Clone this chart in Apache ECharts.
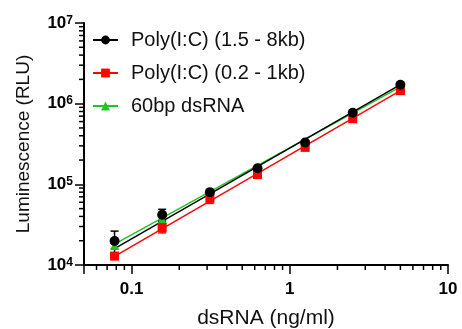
<!DOCTYPE html>
<html>
<head>
<meta charset="utf-8">
<script src="https://cdn.jsdelivr.net/npm/echarts@6/dist/echarts.min.js"></script>
<style>
  html, body { margin: 0; padding: 0; background: #fff; }
  #chart { width: 462px; height: 329px; }
</style>
</head>
<body>
<div id="chart"></div>
<script>
// doses (ng/ml)
const doses = [0.078, 0.156, 0.3125, 0.625, 1.25, 2.5, 5];
// mean luminescence per group
const longPoly = [19800, 42000, 80000, 158000, 330000, 770000, 1720000];
const shortPoly = [12900, 29000, 67000, 132000, 287000, 650000, 1450000];
const ds60 = [17500, 37000, 78000, 155000, 325000, 740000, 1600000];
// error (+/-)
const longPolyErr = [6500, 7000, 5000, 8000, 15000, 30000, 60000];
const shortPolyErr = [1200, 4000, 9000, 8000, 12000, 25000, 50000];
const ds60Err = [1500, 2500, 4000, 6000, 10000, 20000, 40000];
// fitted lines (ends)
const fitX = [0.078, 5];
const longFit = [16000, 1720000];
const shortFit = [12800, 1450000];
const dsFit = [18100, 1620000];

const names = ['Poly(I:C) (1.5 - 8kb)', 'Poly(I:C) (0.2 - 1kb)', '60bp dsRNA'];
const colors = ['#000000', '#ff0000', '#22c322'];

const xMinor = [0.06, 0.07, 0.08, 0.09, 0.2, 0.3, 0.4, 0.5, 0.6, 0.7, 0.8, 0.9, 2, 3, 4, 5, 6, 7, 8, 9];
const yMinor = [2e4, 3e4, 4e4, 5e4, 6e4, 7e4, 8e4, 9e4, 2e5, 3e5, 4e5, 5e5, 6e5, 7e5, 8e5, 9e5, 2e6, 3e6, 4e6, 5e6, 6e6, 7e6, 8e6, 9e6];

const X_MIN = 0.05, X_MAX = 10, Y_MIN = 1e4, Y_MAX = 1e7;
const font = '"Liberation Sans", Arial, Helvetica, sans-serif';

const isDecade = v => Math.abs(Math.log10(v) - Math.round(Math.log10(v))) < 1e-6;

const chart = echarts.init(document.getElementById('chart'));

function fitSeries(name, ys, color, symbol, size, z) {
  return {
    name: name,
    type: 'line',
    data: fitX.map((x, i) => [x, ys[i]]),
    symbol: symbol,
    symbolSize: size,
    showSymbol: false,
    lineStyle: { color: color, width: 1.4 },
    itemStyle: { color: color },
    silent: true,
    z: z
  };
}

function pointSeries(name, ys, color, symbol, size, z) {
  return {
    name: name,
    type: 'scatter',
    data: doses.map((x, i) => [x, ys[i]]),
    symbol: symbol,
    symbolSize: size,
    itemStyle: { color: color, opacity: 1 },
    z: z
  };
}

function errSeries(name, ys, errs, color, z) {
  return {
    name: name,
    type: 'custom',
    data: doses.map((x, i) => [x, ys[i] - errs[i], ys[i] + errs[i]]),
    renderItem: function (params, api) {
      const lo = api.coord([api.value(0), api.value(1)]);
      const hi = api.coord([api.value(0), api.value(2)]);
      const w = 4;
      const st = { stroke: color, lineWidth: 1.5 };
      return {
        type: 'group',
        children: [
          { type: 'line', shape: { x1: lo[0], y1: lo[1], x2: hi[0], y2: hi[1] }, style: st },
          { type: 'line', shape: { x1: hi[0] - w, y1: hi[1], x2: hi[0] + w, y2: hi[1] }, style: st },
          { type: 'line', shape: { x1: lo[0] - w, y1: lo[1], x2: lo[0] + w, y2: lo[1] }, style: st }
        ]
      };
    },
    silent: true,
    z: z
  };
}

// short log minor ticks, just outside the plot
function minorTicks(vals, isX) {
  return {
    type: 'custom',
    clip: false,
    data: vals.map(v => isX ? [v, Y_MIN] : [X_MIN, v]),
    renderItem: function (params, api) {
      const p = api.coord([api.value(0), api.value(1)]);
      const shape = isX
        ? { x1: p[0], y1: p[1], x2: p[0], y2: p[1] + 5 }
        : { x1: p[0] - 5, y1: p[1], x2: p[0], y2: p[1] };
      return { type: 'line', shape: shape, style: { stroke: '#000', lineWidth: 1.5 } };
    }
  };
}

const option = {
  animation: false,
  grid: { left: 84, right: 14, top: 23, bottom: 64, outerBoundsMode: 'none' },
  legend: {
    data: names,
    orient: 'vertical',
    left: 87,
    top: 25,
    itemWidth: 25,
    itemHeight: 11,
    itemGap: 13,
    textStyle: { fontFamily: font, fontSize: 20, color: '#111', padding: [0, 0, 0, 8] }
  },
  xAxis: {
    type: 'log',
    logBase: 10,
    min: X_MIN,
    max: X_MAX,
    name: 'dsRNA (ng/ml)',
    nameLocation: 'middle',
    nameGap: 43,
    nameTextStyle: { fontFamily: font, fontSize: 21, color: '#111' },
    splitLine: { show: false },
    axisLine: { lineStyle: { color: '#000', width: 2 } },
    axisTick: { length: 9, lineStyle: { color: '#000', width: 1.5 } },
    axisLabel: {
      margin: 16,
      fontFamily: font,
      fontSize: 17,
      fontWeight: 'bold',
      color: '#000',
      formatter: v => isDecade(v) ? String(+v.toPrecision(6)) : ''
    }
  },
  yAxis: {
    type: 'log',
    logBase: 10,
    min: Y_MIN,
    max: Y_MAX,
    name: 'Luminescence (RLU)',
    nameLocation: 'middle',
    nameGap: 51,
    nameTextStyle: { fontFamily: font, fontSize: 19, color: '#111' },
    splitLine: { show: false },
    axisLine: { lineStyle: { color: '#000', width: 2 } },
    axisTick: { length: 9, lineStyle: { color: '#000', width: 1.5 } },
    axisLabel: {
      margin: 11,
      fontFamily: font,
      color: '#000',
      formatter: v => '{b|10}{s|' + Math.round(Math.log10(v)) + '}',
      rich: {
        b: { fontFamily: font, fontSize: 17, fontWeight: 'bold', color: '#000' },
        s: { fontFamily: font, fontSize: 12, fontWeight: 'bold', color: '#000', verticalAlign: 'top' }
      }
    }
  },
  series: [
    minorTicks(xMinor, true),
    minorTicks(yMinor, false),
    fitSeries(names[0], longFit, colors[0], 'circle', 10, 4),
    fitSeries(names[1], shortFit, colors[1], 'rect', 9, 3),
    fitSeries(names[2], dsFit, colors[2], 'triangle', 9, 2),
    errSeries(names[2], ds60, ds60Err, colors[2], 2),
    errSeries(names[1], shortPoly, shortPolyErr, colors[1], 3),
    errSeries(names[0], longPoly, longPolyErr, colors[0], 4),
    pointSeries(names[2], ds60, colors[2], 'triangle', 9, 5),
    pointSeries(names[1], shortPoly, colors[1], 'rect', 9, 6),
    pointSeries(names[0], longPoly, colors[0], 'circle', 10, 7)
  ]
};

chart.setOption(option);
</script>
</body>
</html>
